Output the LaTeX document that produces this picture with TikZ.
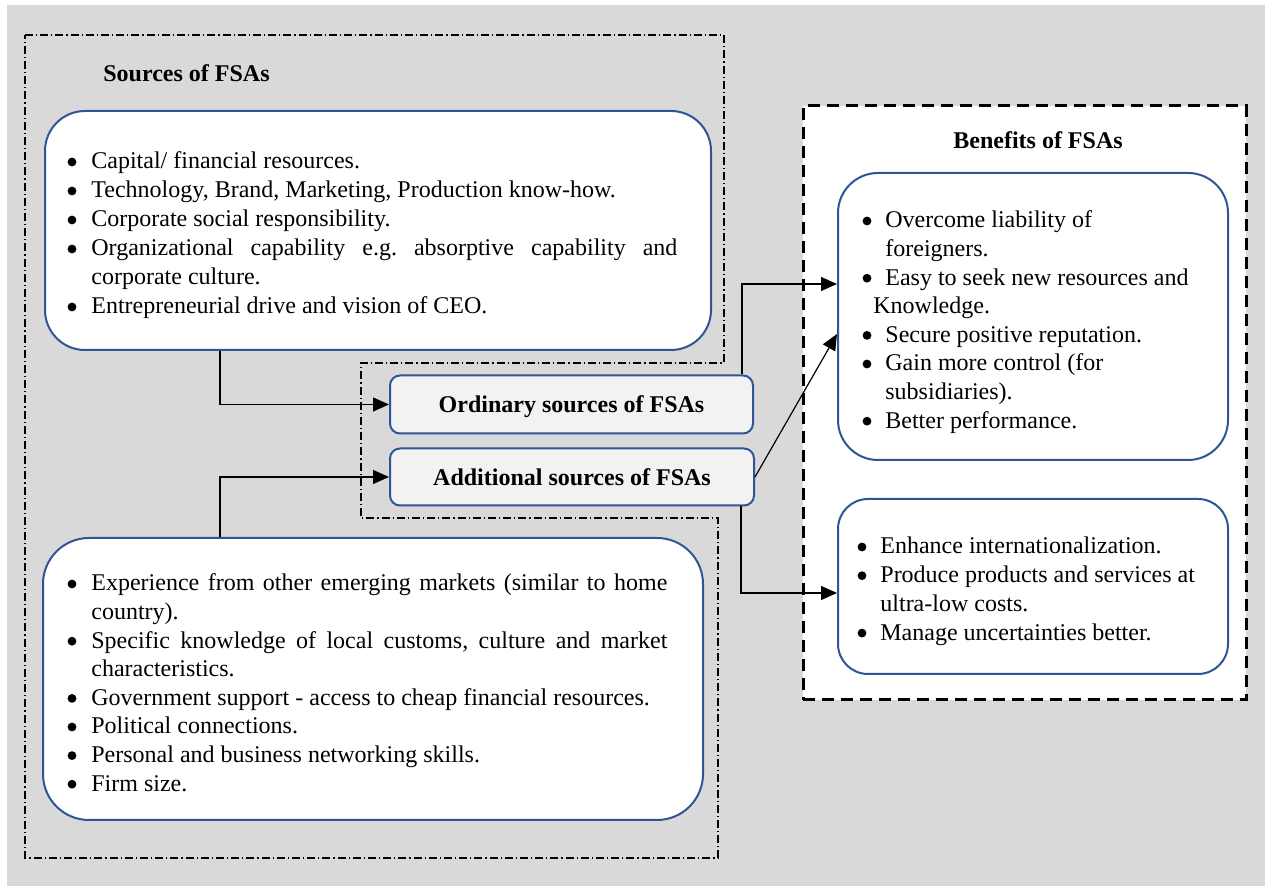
\documentclass[tikz,border=0pt]{standalone}
\usepackage{fontspec}
\setmainfont{Liberation Serif}
\usetikzlibrary{arrows.meta}
\definecolor{bggray}{HTML}{D9D9D9}
\definecolor{boxblue}{HTML}{2F5597}
\definecolor{lightfill}{HTML}{F2F2F2}
\frenchspacing
\begin{document}
\begin{tikzpicture}[x=0.5pt,y=-0.5pt,
  every node/.style={font=\fontsize{12pt}{14pt}\selectfont},
  bigbox/.style={draw=boxblue, line width=1pt, fill=white, rounded corners=20pt, inner sep=0pt},
  midbox/.style={draw=boxblue, line width=1pt, fill=white, rounded corners=15pt, inner sep=0pt},
  smallbox/.style={draw=boxblue, line width=1pt, fill=lightfill, rounded corners=5pt, inner sep=0pt,
    font=\fontsize{12pt}{14pt}\selectfont\bfseries},
  frame/.style={draw=black, line width=1.5pt, dash pattern=on 6pt off 3.5pt, fill=white, inner sep=0pt},
  dashdot/.style={draw=black, line width=0.55pt, dash pattern=on 4pt off 1.5pt on 0.6pt off 1.5pt},
  dot/.style={circle, fill=black, inner sep=0pt, minimum size=4.4pt, yshift=-0.5pt},
  txt/.style={anchor=base west, inner sep=0pt, yshift=-1.5pt},
  ttl/.style={inner sep=0pt, yshift=-1.5pt, font=\fontsize{12pt}{14pt}\selectfont\bfseries},
  link/.style={draw=black, line width=0.6pt, -{Triangle[length=8pt,width=7pt]}}
]
\useasboundingbox (0,0) rectangle (1265,886);
% page background
\fill[bggray] (7,5) rectangle (1265,886);

% dash-dotted outline around the sources
\draw[dashdot] (25,35) -- (724,35) -- (724,363) -- (361,363) -- (361,518)
  -- (718,518) -- (718,858) -- (25,858) -- cycle;

% dashed frame of the benefits
\node[frame, minimum width=221.5pt, minimum height=297pt] (bframe) at (1024.5,403) {};

% titles
\node[ttl, anchor=base west] (stitle) at (103,79) {Sources of FSAs};
\node[ttl, anchor=base] (btitle) at (1038,146) {Benefits of FSAs};

% boxes
\node[bigbox, minimum width=333pt, minimum height=119.5pt] (ordsrc) at (378,230.5) {};
\node[bigbox, minimum width=330pt, minimum height=141pt, rounded corners=23pt] (addsrc) at (373,679) {};
\node[smallbox, minimum width=181.5pt, minimum height=29pt, text depth=0pt, yshift=-1.5pt] (ord) at (571.5,401.5) {Ordinary sources of FSAs};
\node[smallbox, minimum width=182pt, minimum height=28.5pt, text depth=0pt, yshift=-1.5pt] (add) at (572,474) {Additional sources of FSAs};
\node[bigbox, minimum width=195pt, minimum height=143.5pt] (ben1) at (1033,316.5) {};
\node[midbox, minimum width=195pt, minimum height=87.5pt] (ben2) at (1033,586.5) {};

% ordinary sources
\node[dot] (o1b) at (72,161) {};
\node[txt] (o1) at (91,166) {Capital/ financial resources.};
\node[dot] (o2b) at (72,190) {};
\node[txt] (o2) at (91,195) {Technology, Brand, Marketing, Production know-how.};
\node[dot] (o3b) at (72,219) {};
\node[txt] (o3) at (91,224) {Corporate social responsibility.};
\node[dot] (o4b) at (72,248) {};
\node[txt] (o4) at (91,253) {\makebox[293pt][s]{Organizational capability e.g. absorptive capability and}};
\node[txt] (o4c) at (91,282) {corporate culture.};
\node[dot] (o5b) at (72,306) {};
\node[txt] (o5) at (91,311) {Entrepreneurial drive and vision of CEO.};

% additional sources
\node[dot] (a1b) at (72,583) {};
\node[txt] (a1) at (91,588) {\makebox[288pt][s]{Experience from other emerging markets (similar to home}};
\node[txt] (a1c) at (91,616.6) {country).};
\node[dot] (a2b) at (72,640.2) {};
\node[txt] (a2) at (91,645.2) {\makebox[288pt][s]{Specific knowledge of local customs, culture and market}};
\node[txt] (a2c) at (91,673.8) {characteristics.};
\node[dot] (a3b) at (72,697.4) {};
\node[txt] (a3) at (91,702.4) {Government support - access to cheap financial resources.};
\node[dot] (a4b) at (72,726) {};
\node[txt] (a4) at (91,731) {Political connections.};
\node[dot] (a5b) at (72,754.6) {};
\node[txt] (a5) at (91,759.6) {Personal and business networking skills.};
\node[dot] (a6b) at (72,783.2) {};
\node[txt] (a6) at (91,788.2) {Firm size.};

% benefits, first group
\node[dot] (b1b) at (867,220) {};
\node[txt] (b1) at (885,225) {Overcome liability of};
\node[txt] (b1c) at (885,253.6) {foreigners.};
\node[dot] (b2b) at (867,277.2) {};
\node[txt] (b2) at (885,282.2) {Easy to seek new resources and};
\node[txt] (b2c) at (873,310.8) {Knowledge.};
\node[dot] (b3b) at (867,334.4) {};
\node[txt] (b3) at (885,339.4) {Secure positive reputation.};
\node[dot] (b4b) at (867,363) {};
\node[txt] (b4) at (885,368) {Gain more control (for};
\node[txt] (b4c) at (885,396.6) {subsidiaries).};
\node[dot] (b5b) at (867,420.2) {};
\node[txt] (b5) at (885,425.2) {Better performance.};

% benefits, second group
\node[dot] (c1b) at (862,546) {};
\node[txt] (c1) at (880,551) {Enhance internationalization.};
\node[dot] (c2b) at (862,574.7) {};
\node[txt] (c2) at (880,579.7) {Produce products and services at};
\node[txt] (c2c) at (880,608.4) {ultra-low costs.};
\node[dot] (c3b) at (862,632.1) {};
\node[txt] (c3) at (880,637.1) {Manage uncertainties better.};

% connectors
\draw[link] (ordsrc.south west) ++(176,0) |- (ord.west);
\draw[link] (addsrc.north west) ++(178,0) |- (add.west);
\draw[link] (ord.north east) ++(-12,0) |- ([yshift=16.25pt]ben1.west);
\draw[link] (add.east) -- ([yshift=-8.75pt]ben1.west);
\draw[link] (add.south east) ++(-14,0) |- ([yshift=-3.25pt]ben2.west);
\end{tikzpicture}
\end{document}
